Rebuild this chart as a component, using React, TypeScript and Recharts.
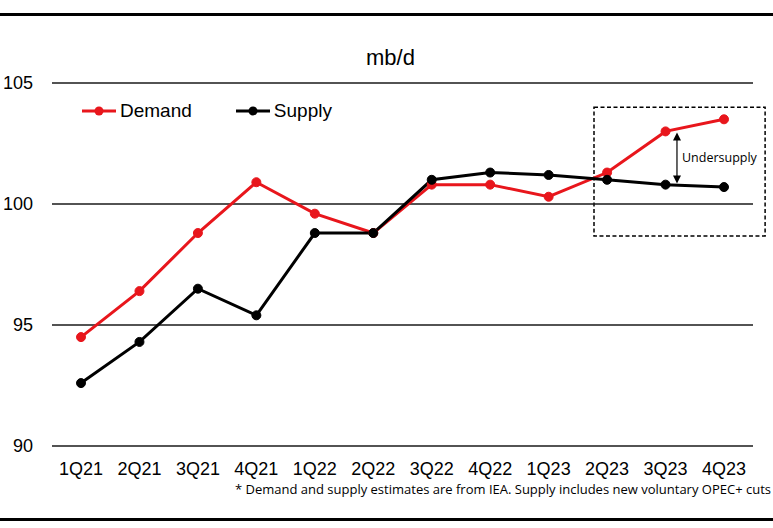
import { LineChart, Line, XAxis, YAxis, ReferenceLine, ReferenceArea, Legend } from 'recharts'

const quarters = ['1Q21', '2Q21', '3Q21', '4Q21', '1Q22', '2Q22', '3Q22', '4Q22', '1Q23', '2Q23', '3Q23', '4Q23']
const demand = [94.5, 96.4, 98.8, 100.9, 99.6, 98.8, 100.8, 100.8, 100.3, 101.3, 103.0, 103.5]
const supply = [92.6, 94.3, 96.5, 95.4, 98.8, 98.8, 101.0, 101.3, 101.2, 101.0, 100.8, 100.7]
const yTicks = [90, 95, 100, 105]

const RED = '#e8161c'
const FONT = '"Liberation Sans", Arial, sans-serif'
const NOTE_FONT = '"Open Sans", "DejaVu Sans", sans-serif'

const data = quarters.map((q, i) => ({ quarter: q, demand: demand[i], supply: supply[i] }))

const legendItems = [
  { name: 'Demand', color: RED },
  { name: 'Supply', color: '#000' },
]

function LegendContent() {
  return (
    <div style={{ display: 'flex', fontFamily: FONT, fontSize: 19, color: '#000' }}>
      {legendItems.map((item) => (
        <div key={item.name} style={{ display: 'flex', alignItems: 'center', marginRight: 44 }}>
          <svg width={36} height={12} style={{ marginRight: 2 }}>
            <line x1={0} y1={6} x2={34} y2={6} stroke={item.color} strokeWidth={3} />
            <circle cx={17} cy={6} r={4.5} fill={item.color} />
          </svg>
          <span>{item.name}</span>
        </div>
      ))}
    </div>
  )
}

// double-headed arrow with its label, drawn between the two 3Q23 values
function Arrow(props: any) {
  const { x1, y1, x2, y2 } = props
  const top = Math.min(y1, y2)
  const bot = Math.max(y1, y2)
  return (
    <g>
      <line x1={x1} y1={top + 6} x2={x2} y2={bot - 6} stroke="#000" strokeWidth={1.2} />
      <polygon points={`${x1},${top} ${x1 - 4},${top + 8} ${x1 + 4},${top + 8}`} fill="#000" />
      <polygon points={`${x1},${bot} ${x1 - 4},${bot - 8} ${x1 + 4},${bot - 8}`} fill="#000" />
      <text x={x1 + 5} y={(top + bot) / 2} dy="0.35em" fontFamily={NOTE_FONT} fontSize={12.5} fill="#000">
        Undersupply
      </text>
    </g>
  )
}

export default function App() {
  return (
    <div style={{ position: 'absolute', left: 0, top: 0, width: 773, height: 528, background: '#fff' }}>
      <div style={{ position: 'absolute', left: 0, top: 13, width: 773, height: 3, background: '#000' }} />
      <div style={{ position: 'absolute', left: 0, top: 518, width: 773, height: 3, background: '#000' }} />
      <div
        style={{
          position: 'absolute',
          left: 0,
          width: 773,
          top: 45,
          textAlign: 'center',
          fontFamily: FONT,
          fontSize: 22,
          lineHeight: '26px',
          paddingLeft: 4,
        }}
      >
        mb/d
      </div>
      <LineChart width={773} height={528} data={data} margin={{ top: 83, right: 20, left: 0, bottom: 52 }}>
        <XAxis
          dataKey="quarter"
          axisLine={false}
          tickLine={false}
          tickSize={0}
          tickMargin={16}
          interval={0}
          height={30}
          padding={{ left: 29, right: 29 }}
          tick={{ fill: '#000', fontSize: 18, fontFamily: FONT }}
        />
        <XAxis xAxisId="num" type="number" domain={[0, 11]} hide allowDataOverflow />
        <YAxis
          domain={[90, 105]}
          ticks={yTicks}
          axisLine={false}
          tickLine={false}
          tickSize={0}
          tickMargin={19}
          width={52}
          tick={{ fill: '#000', fontSize: 18, fontFamily: FONT }}
        />
        {yTicks.map((t) => (
          <ReferenceLine key={t} y={t} stroke="#1a1a1a" strokeWidth={1.6} />
        ))}
        <ReferenceArea
          xAxisId="num"
          x1={8.505}
          x2={11.19}
          y1={98.68}
          y2={104.0}
          fill="none"
          stroke="#000"
          strokeWidth={1.5}
          strokeDasharray="4 2.5"
          ifOverflow="visible"
        />
        <ReferenceLine
          xAxisId="num"
          segment={[
            { x: 9.807, y: 100.85 },
            { x: 9.807, y: 102.95 },
          ]}
          ifOverflow="visible"
          shape={Arrow}
        />
        <Legend
          layout="vertical"
          align="center"
          verticalAlign="middle"
          content={LegendContent}
          wrapperStyle={{ position: 'absolute', top: 100, left: 82, width: 'auto', height: 'auto' }}
        />
        <Line
          dataKey="demand"
          name="Demand"
          stroke={RED}
          strokeWidth={3}
          dot={{ r: 4.5, fill: RED, stroke: RED, strokeWidth: 1 }}
          isAnimationActive={false}
        />
        <Line
          dataKey="supply"
          name="Supply"
          stroke="#000"
          strokeWidth={3}
          dot={{ r: 4.5, fill: '#000', stroke: '#000', strokeWidth: 1 }}
          isAnimationActive={false}
        />
      </LineChart>
      <div
        style={{
          position: 'absolute',
          right: 2,
          top: 481,
          fontFamily: NOTE_FONT,
          fontSize: 13,
          lineHeight: '16px',
          whiteSpace: 'nowrap',
        }}
      >
        * Demand and supply estimates are from IEA. Supply includes new voluntary OPEC+ cuts
      </div>
    </div>
  )
}
